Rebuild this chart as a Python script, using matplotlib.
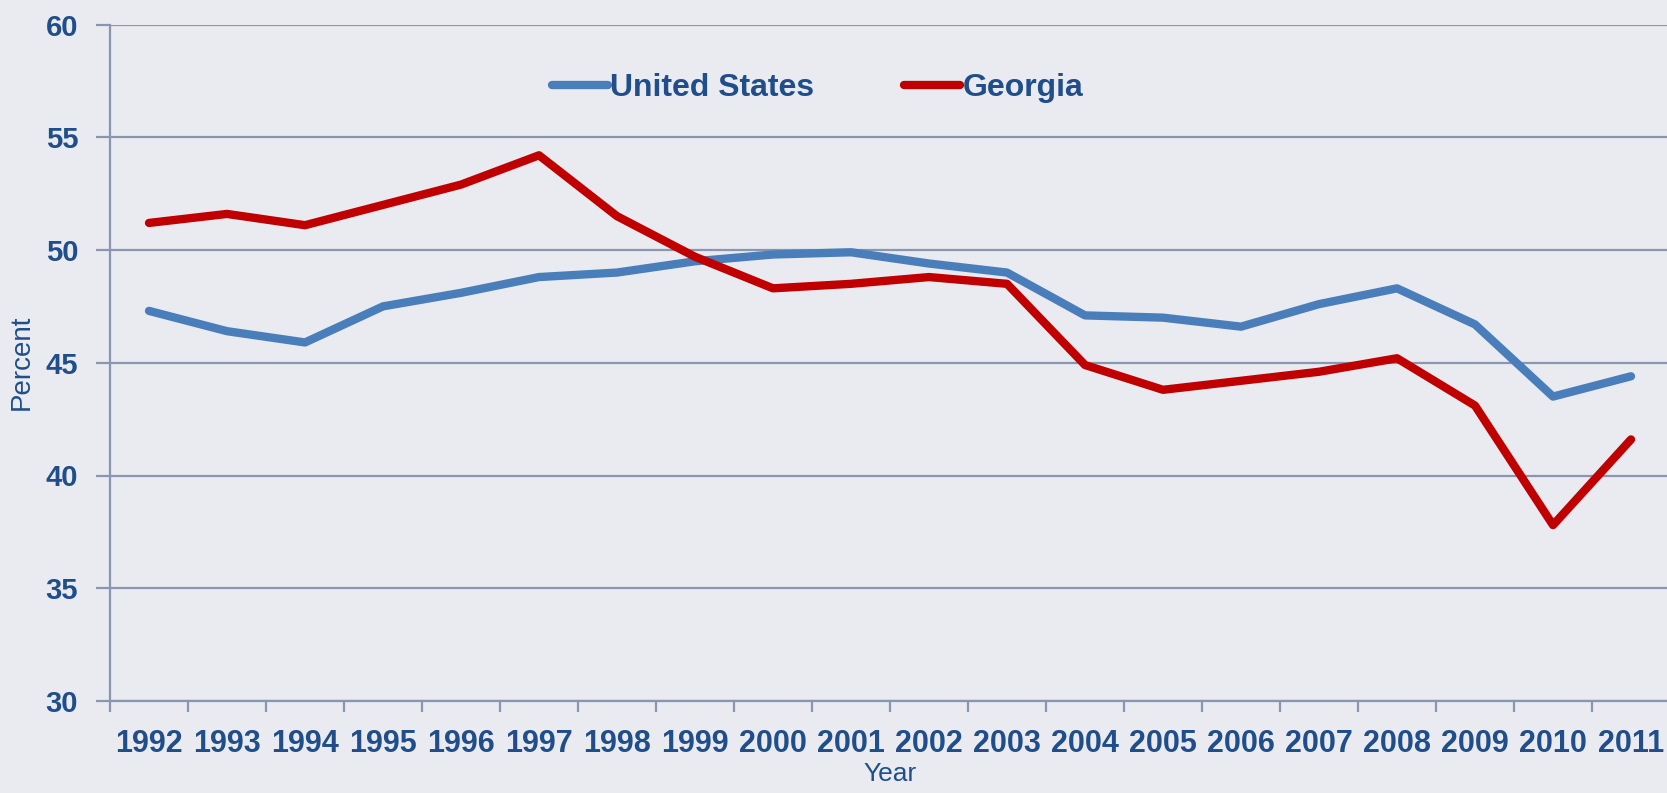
import numpy as np
import matplotlib.pyplot as plt

plt.rcParams["font.family"] = ["Liberation Sans", "DejaVu Sans"]

years = ["1992", "1993", "1994", "1995", "1996", "1997", "1998", "1999", "2000", "2001",
         "2002", "2003", "2004", "2005", "2006", "2007", "2008", "2009", "2010", "2011"]
us = [47.3, 46.4, 45.9, 47.5, 48.1, 48.8, 49.0, 49.5, 49.8, 49.9,
      49.4, 49.0, 47.1, 47.0, 46.6, 47.6, 48.3, 46.7, 43.5, 44.4]
georgia = [51.2, 51.6, 51.1, 52.0, 52.9, 54.2, 51.5, 49.7, 48.3, 48.5,
           48.8, 48.5, 44.9, 43.8, 44.2, 44.6, 45.2, 43.1, 37.8, 41.6]
yticks = [30, 35, 40, 45, 50, 55, 60]

txt = "#1F4E8A"
grid = "#8A95B0"
bg = "#E9EBF0"

W, H = 1667, 793
fig = plt.figure(figsize=(W/100, H/100), dpi=100)
fig.patch.set_facecolor(bg)
ax = fig.add_axes([110/W, 1-701/H, 1560/W, 676.5/H])
ax.set_facecolor(bg)

x = np.arange(len(years))
ax.plot(x, us, color="#4A7EBB", lw=6, solid_capstyle="round", solid_joinstyle="round",
        label="United States", zorder=3)
ax.plot(x, georgia, color="#C00000", lw=6, solid_capstyle="round", solid_joinstyle="round",
        label="Georgia", zorder=3)

ax.set_xlim(-0.5, len(years)-0.5)
ax.set_ylim(30, 60)
ax.set_yticks(yticks)
ax.set_yticklabels([str(v) for v in yticks], fontsize=21, color=txt, fontweight="bold")
ax.yaxis.grid(True, color=grid, lw=1.6)
ax.set_axisbelow(True)

ax.set_xticks(x)
ax.set_xticklabels(years, fontsize=22, color=txt, fontweight="bold")
ax.set_xticks(np.arange(len(years)+1)-0.5, minor=True)
ax.tick_params(axis="x", which="major", length=0, pad=20)
ax.tick_params(axis="x", which="minor", length=8, width=1.6, color=grid)
ax.tick_params(axis="y", length=10, width=1.6, color=grid, pad=13)

for s in ["top", "right"]:
    ax.spines[s].set_visible(False)
for s in ["left", "bottom"]:
    ax.spines[s].set_color(grid)
    ax.spines[s].set_linewidth(1.6)

ax.set_ylabel("Percent", fontsize=20, color=txt, labelpad=8)
ax.set_xlabel("Year", fontsize=19, color=txt, labelpad=2)

leg = ax.legend(ncol=2, loc="center left", bbox_to_anchor=(552/W, 1-88/H),
                bbox_transform=fig.transFigure, frameon=False,
                prop={"size": 23, "weight": "bold"},
                handlelength=1.75, handletextpad=0.08, columnspacing=2.8,
                borderpad=0, borderaxespad=0)
for t in leg.get_texts():
    t.set_color(txt)

fig.savefig("out.png", dpi=100, facecolor=bg)
